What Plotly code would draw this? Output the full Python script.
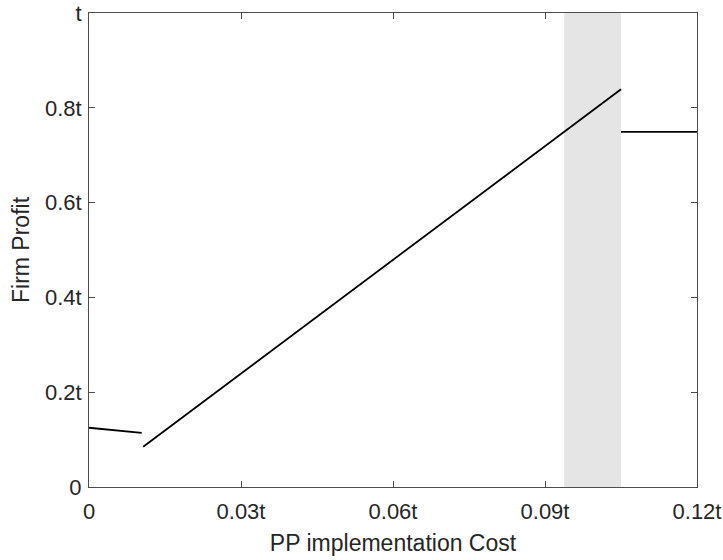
import plotly.graph_objects as go

# Data
seg1_x = [0.0, 0.0104]
seg1_y = [0.125, 0.114]
seg2_x = [0.0107, 0.105]
seg2_y = [0.085, 0.839]
seg3_x = [0.105, 0.12]
seg3_y = [0.749, 0.749]
shade_x = [0.0938, 0.105]

x_tickvals = [0, 0.03, 0.06, 0.09, 0.12]
x_ticktext = ["0", "0.03t", "0.06t", "0.09t", "0.12t"]
y_tickvals = [0, 0.2, 0.4, 0.6, 0.8, 1.0]
y_ticktext = ["0", "0.2t", "0.4t", "0.6t", "0.8t", "t"]

FONT = "Liberation Sans, Arial, sans-serif"

fig = go.Figure()
for xs, ys in [(seg1_x, seg1_y), (seg2_x, seg2_y), (seg3_x, seg3_y)]:
    fig.add_trace(go.Scatter(x=xs, y=ys, mode="lines",
                             line=dict(color="black", width=1.8),
                             showlegend=False, hoverinfo="skip"))

fig.add_shape(type="rect", xref="x", yref="y", x0=shade_x[0], x1=shade_x[1],
              y0=0, y1=1, fillcolor="#e5e5e5", line=dict(width=0), layer="below")

axis_common = dict(showgrid=False, zeroline=False, showline=True, mirror="ticks",
                   linecolor="#4d4d4d", linewidth=1, ticks="inside", ticklen=6,
                   tickcolor="#4d4d4d", automargin=False, ticklabeloverflow="allow",
                   tickfont=dict(size=22, color="#262626", family=FONT))

fig.update_xaxes(range=[0, 0.12], tickvals=x_tickvals, ticktext=x_ticktext,
                 ticklabelstandoff=5,
                 title=dict(text="PP implementation Cost",
                            font=dict(size=23, color="#262626", family=FONT),
                            standoff=11),
                 **axis_common)
fig.update_yaxes(range=[0, 1], tickvals=y_tickvals, ticktext=y_ticktext,
                 ticklabelstandoff=2,
                 title=dict(text="Firm Profit",
                            font=dict(size=23, color="#262626", family=FONT),
                            standoff=8),
                 **axis_common)

fig.update_layout(width=723, height=560, plot_bgcolor="white", paper_bgcolor="white",
                  margin=dict(l=89, r=26, t=13, b=73, autoexpand=False),
                  font=dict(family=FONT))

# remove the default 8px page margin so the figure fills the window exactly
fig.write_html("out.html", config={"displayModeBar": False},
               post_script="document.body.style.margin='0';")
